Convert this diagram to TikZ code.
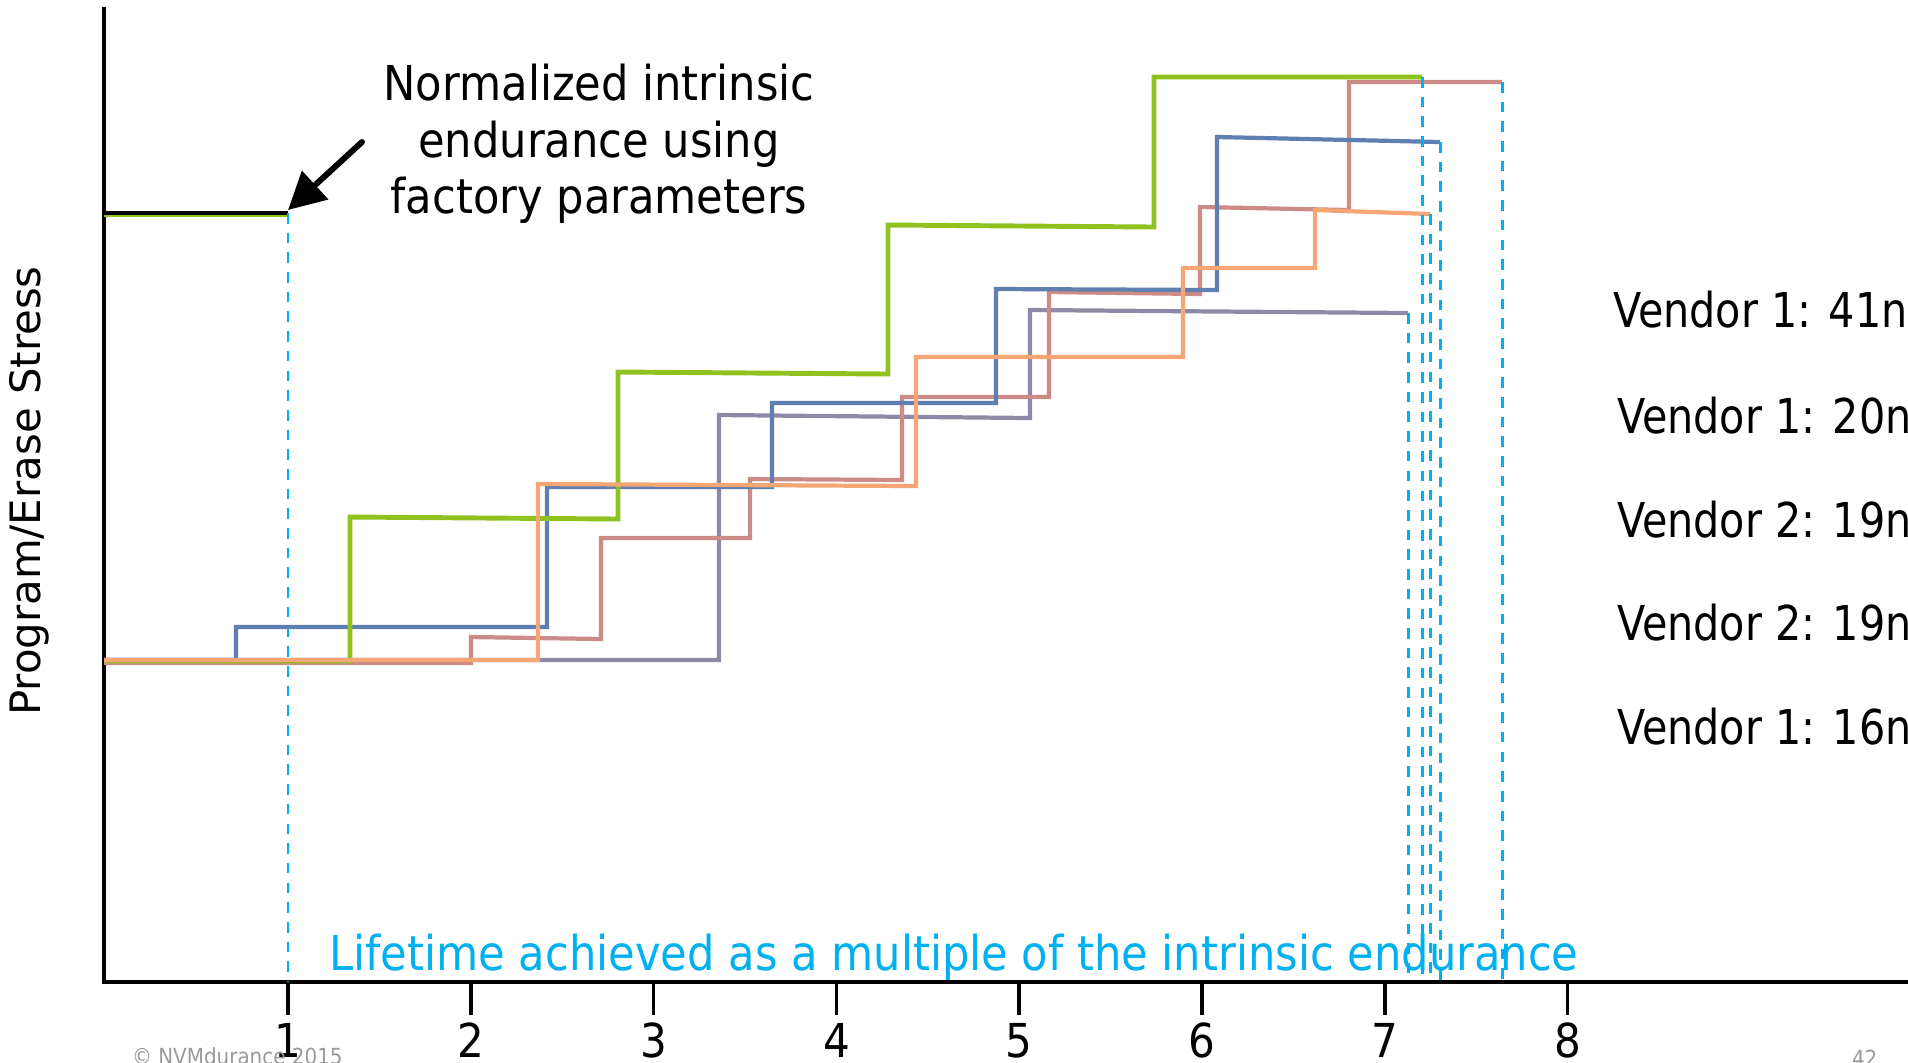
\documentclass[tikz,border=0pt]{standalone}
\usepackage{fontspec}
\setmainfont{DejaVu Sans}[FakeStretch=0.9]
\newfontfamily\vendorfont{DejaVu Sans}[FakeStretch=0.86]
\newfontfamily\axisfont{DejaVu Sans}
\usetikzlibrary{arrows.meta}

\definecolor{cgreen}{HTML}{8DC21F}
\definecolor{cblue}{HTML}{5F7FB0}
\definecolor{crose}{HTML}{CB8B87}
\definecolor{corange}{HTML}{F5A674}
\definecolor{cpurple}{HTML}{8F88A6}
\definecolor{cyanline}{HTML}{00B0F0}
\definecolor{footgray}{HTML}{9A9A9A}

\newcommand\annsize{\fontsize{13.66pt}{16pt}\selectfont}
\newcommand\ticksize{\fontsize{13.3pt}{16pt}\selectfont}
\newcommand\footsize{\fontsize{6.3pt}{8pt}\selectfont}

\begin{document}
\begin{tikzpicture}[x=0.01cm, y=-0.01cm,
  txt/.style={inner sep=0pt, outer sep=0pt},
  axisline/.style={line width=1pt, black},
  curve/.style={line width=1.2pt, line join=miter},
  lifeline/.style={cyanline, line width=0.85pt, dash pattern=on 3pt off 2.6pt},
  pointer/.style={line width=1.7pt, line cap=round,
    -{Triangle[length=10.5pt, width=10.7pt]}}]

\useasboundingbox (0,0) rectangle (1908,1062);

% axes
\coordinate (O) at (104,982);
\coordinate (ytop) at (104,7);
\coordinate (xend) at (1908,982);
\draw[axisline] (ytop) -- (O) -- (xend);

% ticks and their numbers
\foreach \k in {1,...,8} {
  \pgfmathsetmacro\tx{105.2+182.8*\k}
  \draw[axisline] (\tx,982) -- (\tx,1015);
  \node[txt, anchor=base, font=\ticksize] (tick\k) at (\tx,1057) {\k};
}

% intrinsic endurance marker
\coordinate (m0) at (104,213);
\coordinate (m1) at (288,213);
\draw[cgreen, line width=1pt] ([yshift=-0.6pt]m0) -- ([yshift=-0.6pt]m1);
\draw[black, line width=1pt] (m0) -- (m1);
\draw[lifeline] (m1) -- (m1 |- O);

% stress steps of each device
\draw[curve, cpurple] (104,660) -- (719,660) -- (719,415) -- (1030,418)
  -- (1030,310) -- (1408,313) coordinate (pEnd);
\draw[curve, crose] (104,663) -- (471,663) -- (471,637) -- (601,639)
  -- (601,538) -- (750,538) -- (750,479) -- (902,480) -- (902,397)
  -- (1049,397) -- (1049,292) -- (1200,294) -- (1200,207) -- (1349,210)
  -- (1349,82) -- (1502,82) coordinate (rEnd);
\draw[curve, cblue] (104,660) -- (236,660) -- (236,627) -- (547,627)
  -- (547,487) -- (772,487) -- (772,403) -- (996,403) -- (996,289)
  -- (1217,290) -- (1217,137) -- (1440,142) coordinate (bEnd);
\draw[curve, cgreen, line width=1.4pt] (104,661) -- (350,661) -- (350,517)
  -- (618,519) -- (618,372) -- (888,374) -- (888,225) -- (1154,227)
  -- (1154,77) -- (1422,77) coordinate (gEnd);
\draw[curve, corange] (104,660) -- (538,660) -- (538,484) -- (916,486)
  -- (916,357) -- (1183,357) -- (1183,268) -- (1315,268) -- (1315,210)
  -- (1430,214) coordinate (oEnd);

% lifetime drop lines
\foreach \e in {pEnd, gEnd, oEnd, bEnd, rEnd}
  \draw[lifeline] (\e) -- (\e |- O);

% annotation
\node[txt, anchor=base, font=\annsize] (ann1) at (599,100) {Normalized intrinsic};
\node[txt, anchor=base, font=\annsize] (ann2) at (599,157) {endurance using};
\node[txt, anchor=base, font=\annsize] (ann3) at (599,213) {factory parameters};
\coordinate (tail) at (362,142);
\coordinate (tip) at (288,210);
\draw[pointer] (tail) -- (tip);

% axis titles
\node[txt, anchor=base, rotate=90, font=\axisfont\fontsize{11.9pt}{14pt}\selectfont]
  (ylab) at (41,491) {Program/Erase Stress};
\node[txt, anchor=base, text=cyanline, font=\annsize] (life) at (954,970)
  {Lifetime achieved as a multiple of the intrinsic endurance};

% device legend
\node[txt, anchor=base west, font=\vendorfont\annsize] (v1) at (1613,327) {Vendor 1: 41nm};
\node[txt, anchor=base west, font=\vendorfont\annsize] (v2) at (1617,433) {Vendor 1: 20nm};
\node[txt, anchor=base west, font=\vendorfont\annsize] (v3) at (1617,537) {Vendor 2: 19nm};
\node[txt, anchor=base west, font=\vendorfont\annsize] (v4) at (1617,640) {Vendor 2: 19nm};
\node[txt, anchor=base west, font=\vendorfont\annsize] (v5) at (1617,744) {Vendor 1: 16nm};

% footer
\node[txt, anchor=base west, text=footgray, font=\footsize] (copy) at (132,1064) {© NVMdurance 2015};
\node[txt, anchor=base west, text=footgray, font=\footsize] (page) at (1852,1066) {42};
\end{tikzpicture}
\end{document}
